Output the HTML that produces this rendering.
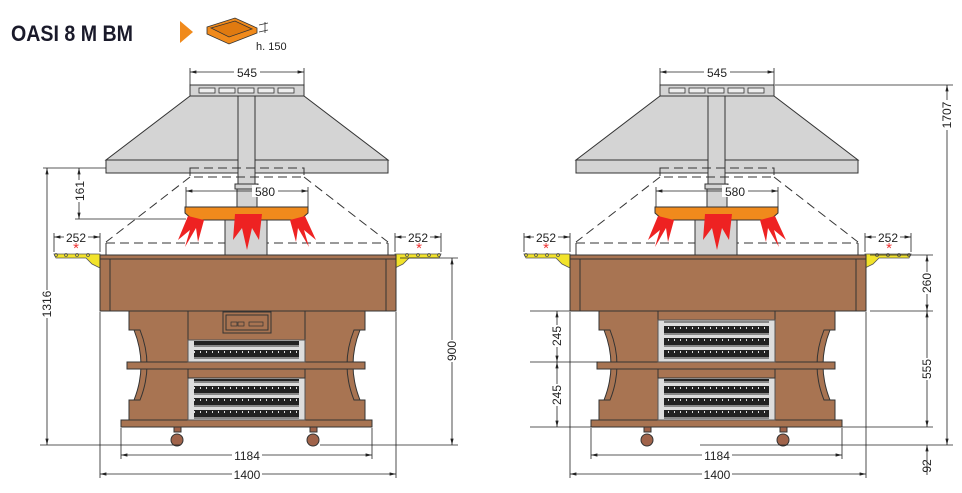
<!DOCTYPE html>
<html><head><meta charset="utf-8"><style>
html,body{margin:0;padding:0;background:#fff}
svg{display:block}
text{font-family:"Liberation Sans",sans-serif;font-size:12px;fill:#222}
</style></head><body>
<svg width="962" height="493" viewBox="0 0 962 493" xmlns="http://www.w3.org/2000/svg">
<defs>
<marker id="a" viewBox="0 0 8 6" refX="8" refY="3" markerWidth="8" markerHeight="6" orient="auto-start-reverse"><path d="M0,1 L8,3 L0,5z" fill="#222"/></marker>
<pattern id="gr" width="6" height="12" patternUnits="userSpaceOnUse"><rect width="6" height="12" fill="#ddd"/><rect y="2" width="6" height="7" fill="#222"/><rect x="2" y="3" width="1" height="2" fill="#ddd"/><rect y="9.5" width="6" height="1" fill="#333"/></pattern>
<g id="unit">
 <rect x="190" y="85" width="114" height="11" fill="#d4d4d4" stroke="#333"/>
 <g fill="#eee" stroke="#333" stroke-width=".8"><rect x="199" y="88" width="16" height="5"/><rect x="219" y="88" width="16" height="5"/><rect x="238" y="88" width="16" height="5"/><rect x="258" y="88" width="16" height="5"/><rect x="278" y="88" width="16" height="5"/></g>
 <path d="M190,96 L304,96 L388,160 L106,160z" fill="#d4d4d4" stroke="#333"/>
 <rect x="106" y="160" width="282" height="13" fill="#d4d4d4" stroke="#333"/>
 <rect x="238" y="96" width="17" height="90" fill="#d4d4d4" stroke="#333"/>
 <rect x="235" y="184" width="23" height="5" fill="#d4d4d4" stroke="#333"/>
 <rect x="237" y="189" width="20" height="18" fill="#d4d4d4" stroke="#333"/>
 <g fill="none" stroke="#333" stroke-dasharray="9,5"><rect x="190" y="168" width="114" height="9"/><path d="M190,177 L106,242 M304,177 L388,242 M106,243 L388,243"/></g>
 <path d="M106,243 V255 M388,243 V255" stroke="#333"/>
 <rect x="225" y="220" width="42" height="35" fill="#d4d4d4" stroke="#333"/>
 <path d="M185,207 H308 V213 L300,220 H193 L185,213z" fill="#f08a1c" stroke="#333"/>
 <g fill="#ee2222"><path d="M188,216 L178,240 L190,230 L185,247 L196,228 L198,242 L204,220z"/><path d="M235,214 L233,240 L242,228 L247,250 L252,228 L259,240 L262,214z"/><path d="M305,216 L316,240 L304,230 L309,247 L298,228 L296,242 L290,220z"/></g>
 <path d="M54,254 H100 V268 L92,264 L86,258 L56,258z" fill="#f2e32a" stroke="#555" stroke-width=".8"/>
 <path d="M441,254 H395 V268 L403,264 L409,258 L439,258z" fill="#f2e32a" stroke="#555" stroke-width=".8"/>
 <g fill="none" stroke="#555" stroke-width=".8"><circle cx="56" cy="255" r="1.5"/><circle cx="66" cy="255" r="1.5"/><circle cx="77" cy="255" r="1.5"/><circle cx="88" cy="255" r="1.5"/><circle cx="439" cy="255" r="1.5"/><circle cx="429" cy="255" r="1.5"/><circle cx="418" cy="255" r="1.5"/><circle cx="407" cy="255" r="1.5"/></g>
 <text x="76" y="253" text-anchor="middle" style="fill:#e33;font-size:15px">*</text>
 <text x="419" y="253" text-anchor="middle" style="fill:#e33;font-size:15px">*</text>
 <rect x="100" y="255" width="296" height="56" fill="#a87452" stroke="#333"/>
 <path d="M100,259 H396 M110,259 V311 M386,259 V311" stroke="#333" fill="none"/>
 <path d="M129,311 H365 V330 L360,330 Q346,365 360,400 L365,400 V420 H129 V400 L134,400 Q148,365 134,330 L129,330z" fill="#a87452" stroke="#333"/>
 <path d="M134,330 L140,330 Q154,365 140,400 L134,400 M360,330 L354,330 Q340,365 354,400 L360,400" fill="none" stroke="#333"/>
 <path d="M188,311 V420 M305,311 V420" stroke="#333"/>
 <rect x="127" y="362" width="238" height="7" fill="#a87452" stroke="#333"/>
 <rect x="121" y="420" width="251" height="7" fill="#a87452" stroke="#333"/>
 <g fill="#a0634a" stroke="#333"><circle cx="177" cy="440" r="6"/><circle cx="313" cy="440" r="6"/><rect x="174" y="427" width="7" height="5"/><rect x="310" y="427" width="7" height="5"/></g>
 <g stroke="#222" stroke-width=".8" fill="none">
  <path d="M190,72 H304" marker-start="url(#a)" marker-end="url(#a)"/><path d="M190,68 V85 M304,68 V85"/>
  <path d="M186,191 H308" marker-start="url(#a)" marker-end="url(#a)"/><path d="M186,187 V207 M308,187 V207"/>
  <path d="M54,237 H100" marker-start="url(#a)" marker-end="url(#a)"/><path d="M54,233 V252 M100,233 V252"/>
  <path d="M395,237 H441" marker-start="url(#a)" marker-end="url(#a)"/><path d="M395,233 V252 M441,233 V252"/>
  <path d="M121,455 H372" marker-start="url(#a)" marker-end="url(#a)"/><path d="M121,428 V459"/><path d="M372,428 V459"/>
  <path d="M100,474 H396" marker-start="url(#a)" marker-end="url(#a)"/><path d="M100,312 V478 M396,312 V478"/>
 </g>
 <g style="font-size:12px">
  <rect x="234" y="66" width="26" height="12" fill="#fff"/><text x="247" y="77" text-anchor="middle">545</text>
  <rect x="252" y="185" width="26" height="12" fill="#fff"/><text x="265" y="196" text-anchor="middle">580</text>
  <rect x="64" y="231" width="24" height="12" fill="#fff"/><text x="76" y="242" text-anchor="middle">252</text>
  <rect x="406" y="231" width="24" height="12" fill="#fff"/><text x="418" y="242" text-anchor="middle">252</text>
  <rect x="232" y="449" width="30" height="12" fill="#fff"/><text x="247" y="460" text-anchor="middle">1184</text>
  <rect x="232" y="468" width="30" height="12" fill="#fff"/><text x="247" y="479" text-anchor="middle">1400</text>
 </g>
</g>
</defs>

<text x="11" y="41" textLength="122" lengthAdjust="spacingAndGlyphs" style="font-size:22px;font-weight:bold;fill:#1a1a2a">OASI 8 M BM</text>
<path d="M180,21 L193,32 L180,43z" fill="#f08a1c"/>
<path d="M207,27 L235,18 L257,28 L257,33 L229,44 L207,34z" fill="#f08a1c" stroke="#333" stroke-width=".8"/>
<path d="M211,28 L235,21 L252,29 L229,37z" fill="#e07a10" stroke="#333" stroke-width=".8"/>
<path d="M259,25 L268,23 M259,32 L268,30 M265,22 V33" stroke="#333" stroke-width=".8"/>
<text x="256" y="50" style="font-size:11px">h. 150</text>

<use href="#unit"/>
<use href="#unit" transform="translate(470,0)"/>

<rect x="223" y="312" width="48" height="21" fill="#a87452" stroke="#333"/>
<rect x="226" y="315" width="42" height="15" fill="none" stroke="#333"/>
<rect x="231" y="322" width="6" height="4" fill="none" stroke="#333" stroke-width=".7"/><rect x="238" y="322" width="6" height="4" fill="none" stroke="#333" stroke-width=".7"/><rect x="249" y="322" width="14" height="4" fill="none" stroke="#333" stroke-width=".7"/>
<rect x="188" y="340" width="117" height="22" fill="#ddd" stroke="#555"/><rect x="194" y="341" width="105" height="20" fill="url(#gr)"/>
<rect x="188" y="378" width="117" height="42" fill="#ddd" stroke="#555"/><rect x="194" y="379" width="105" height="40" fill="url(#gr)"/>
<rect x="188" y="369" width="117" height="9" fill="#a87452" stroke="#333"/>
<g stroke="#222" stroke-width=".8" fill="none">
 <path d="M47,168 V445" marker-start="url(#a)" marker-end="url(#a)"/><path d="M43,168 H106 M40,445 H180"/>
 <path d="M79,168 V219" marker-start="url(#a)" marker-end="url(#a)"/><path d="M75,219 H186"/>
 <path d="M452,258 V445" marker-start="url(#a)" marker-end="url(#a)"/><path d="M400,258 H458 M320,445 H458"/>
</g>
<rect x="41" y="290" width="12" height="28" fill="#fff"/><text transform="translate(51,304) rotate(-90)" text-anchor="middle">1316</text>
<rect x="73" y="180" width="12" height="22" fill="#fff"/><text transform="translate(84,191) rotate(-90)" text-anchor="middle">161</text>
<rect x="446" y="340" width="12" height="22" fill="#fff"/><text transform="translate(456,351) rotate(-90)" text-anchor="middle">900</text>

<rect x="658" y="320" width="117" height="42" fill="#ddd" stroke="#555"/><rect x="664" y="321" width="105" height="40" fill="url(#gr)"/>
<rect x="658" y="378" width="117" height="42" fill="#ddd" stroke="#555"/><rect x="664" y="379" width="105" height="40" fill="url(#gr)"/>
<rect x="658" y="369" width="117" height="9" fill="#a87452" stroke="#333"/>
<g stroke="#222" stroke-width=".8" fill="none">
 <path d="M927,255 V311" marker-start="url(#a)" marker-end="url(#a)"/>
 <path d="M927,311 V427" marker-start="url(#a)" marker-end="url(#a)"/>
 <path d="M927,445 V475" marker-start="url(#a)"/>
 <path d="M947,85 V445" marker-start="url(#a)" marker-end="url(#a)"/>
 <path d="M870,255 H933 M870,311 H933 M842,427 H933 M700,445 H953 M775,85 H953"/>
 <path d="M557,311 V362" marker-start="url(#a)" marker-end="url(#a)"/>
 <path d="M557,362 V427" marker-start="url(#a)" marker-end="url(#a)"/>
 <path d="M530,311 H570 M530,362 H598 M530,427 H600"/>
</g>
<rect x="921" y="272" width="12" height="22" fill="#fff"/><text transform="translate(931,283) rotate(-90)" text-anchor="middle">260</text>
<rect x="921" y="358" width="12" height="22" fill="#fff"/><text transform="translate(931,369) rotate(-90)" text-anchor="middle">555</text>
<rect x="941" y="100" width="12" height="30" fill="#fff"/><text transform="translate(951,115) rotate(-90)" text-anchor="middle">1707</text>
<text transform="translate(931,466) rotate(-90)" text-anchor="middle">92</text>
<rect x="551" y="325" width="12" height="22" fill="#fff"/><text transform="translate(561,336) rotate(-90)" text-anchor="middle">245</text>
<rect x="551" y="384" width="12" height="22" fill="#fff"/><text transform="translate(561,395) rotate(-90)" text-anchor="middle">245</text>
</svg>
</body></html>
